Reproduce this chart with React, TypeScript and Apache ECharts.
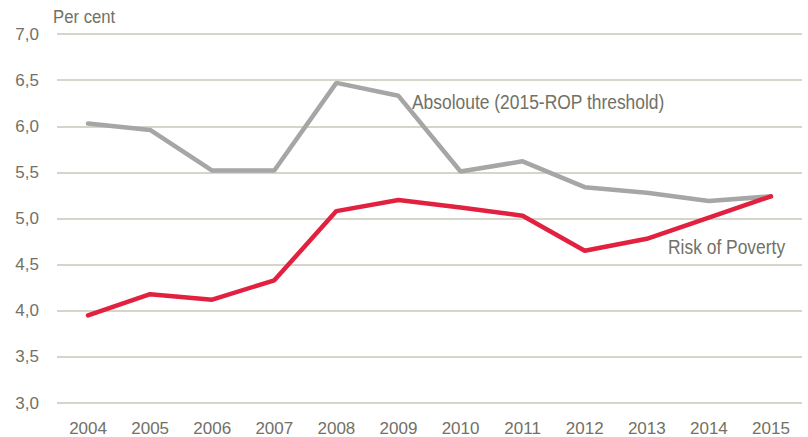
import React, { useEffect, useRef } from "react";
import * as echarts from "echarts";

const years = ["2004", "2005", "2006", "2007", "2008", "2009", "2010", "2011", "2012", "2013", "2014", "2015"];
const absoluteValues = [6.03, 5.96, 5.52, 5.52, 6.47, 6.33, 5.51, 5.62, 5.34, 5.28, 5.19, 5.24];
const riskValues = [3.95, 4.18, 4.12, 4.33, 5.08, 5.2, 5.12, 5.03, 4.65, 4.78, 5.01, 5.24];
const absoluteLabel = "Absoloute (2015-ROP threshold)";
const riskLabel = "Risk of Poverty";
const yTitle = "Per cent";

const FONT = "'Liberation Sans', Arial, sans-serif";
const TEXT = "#727165";

export default function App() {
  const ref = useRef<HTMLDivElement>(null);
  useEffect(() => {
    if (!ref.current) return;
    const chart = echarts.init(ref.current, undefined, { renderer: "svg" });
    chart.setOption({
      animation: false,
      backgroundColor: "#ffffff",
      grid: { left: 57, right: 6, top: 34, bottom: 34, containLabel: false },
      xAxis: {
        type: "category",
        data: years,
        boundaryGap: true,
        axisLine: { show: false },
        axisTick: { show: false },
        axisLabel: { color: TEXT, fontFamily: FONT, fontSize: 17, margin: 17 },
      },
      yAxis: {
        type: "value",
        min: 3,
        max: 7,
        interval: 0.5,
        axisLine: { show: false },
        axisTick: { show: false },
        splitLine: { lineStyle: { color: "#c9c7b8", width: 1.5 } },
        axisLabel: {
          color: TEXT,
          fontFamily: FONT,
          fontSize: 17,
          margin: 18,
          formatter: (v: number) => v.toFixed(1).replace(".", ","),
        },
      },
      series: [
        {
          type: "line",
          data: absoluteValues,
          symbol: "none",
          lineStyle: { color: "#a6a6a6", width: 4.5, cap: "round" },
          z: 2,
        },
        {
          type: "line",
          data: riskValues,
          symbol: "none",
          lineStyle: { color: "#e1213f", width: 4.5, cap: "round" },
          z: 3,
        },
      ],
      graphic: [
        {
          type: "text",
          x: 53,
          y: 17,
          scaleX: 0.88,
          style: { text: yTitle, fill: TEXT, font: `19px ${FONT}`, textVerticalAlign: "middle" },
        },
        {
          type: "text",
          x: 412,
          y: 102,
          scaleX: 0.83,
          style: { text: absoluteLabel, fill: TEXT, font: `21px ${FONT}`, textVerticalAlign: "middle" },
        },
        {
          type: "text",
          x: 668,
          y: 247,
          scaleX: 0.83,
          style: { text: riskLabel, fill: TEXT, font: `21px ${FONT}`, textVerticalAlign: "middle" },
        },
      ],
    });
    return () => chart.dispose();
  }, []);
  return (
    <div
      ref={ref}
      style={{ position: "fixed", left: 0, top: 0, width: 808, height: 437 }}
    />
  );
}
